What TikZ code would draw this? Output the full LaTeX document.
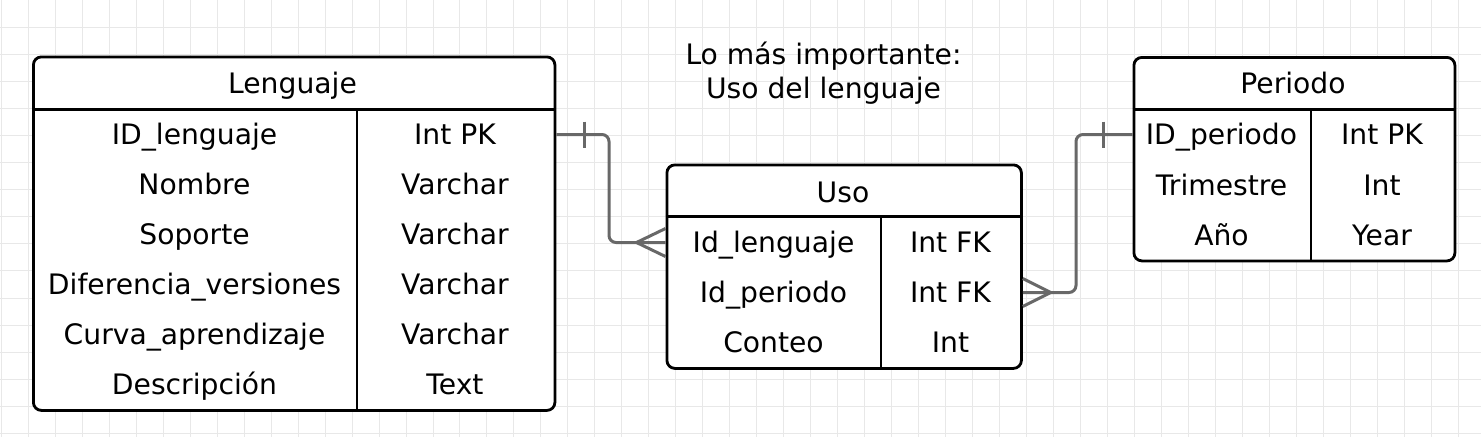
\documentclass[tikz,border=0pt]{standalone}
\usepackage{fontspec}
\setmainfont{DejaVu Sans}
\definecolor{relgray}{RGB}{104,104,104}
\definecolor{gridc}{RGB}{232,232,232}
\begin{document}
\begin{tikzpicture}[x=1pt,y=-1pt,
  tbl/.style={draw=black,line width=2.8pt,rounded corners=8pt,fill=white,inner sep=0pt,anchor=north west},
  sepline/.style={draw=black,line width=2.8pt},
  txt/.style={anchor=center,inner sep=0pt,text height=20.5pt,text depth=0pt,font=\fontsize{28.2}{34}\selectfont},
  rel/.style={draw=relgray,line width=3pt},
  gridline/.style={draw=gridc,line width=1pt}]
\useasboundingbox (0,0) rectangle (1481,437);
\fill[white] (0,0) rectangle (1481,437);
\foreach \k in {-1,...,53} \draw[gridline] ({28.3+26.98*\k},0) -- ++(0,437);
\foreach \k in {0,...,15} \draw[gridline] (0,{27.5+27.05*\k}) -- ++(1481,0);

% Title
\node[txt] (title1) at (823.5,54.5) {Lo más importante:};
\node[txt] (title2) at (823.5,88) {Uso del lenguaje};

% Lenguaje table
\node[tbl,minimum width=521.5pt,minimum height=353.5pt] (leng) at (32,55.5) {};
\draw[sepline] ([shift={(0,53.8)}]leng.north west) -- ([shift={(0,53.8)}]leng.north east);
\draw[sepline] (357,109.3) -- (357,409);
\node[txt] (lengH) at (292.5,83.5) {Lenguaje};
\node[txt] (lengA1) at (194.5,134.5) {ID\_lenguaje};
\node[txt] (lengB1) at (455,134.5) {Int PK};
\node[txt] (lengA2) at (194.5,184.5) {Nombre};
\node[txt] (lengB2) at (455,184.5) {Varchar};
\node[txt] (lengA3) at (194.5,234.5) {Soporte};
\node[txt] (lengB3) at (455,234.5) {Varchar};
\node[txt] (lengA4) at (194.5,284.5) {Diferencia\_versiones};
\node[txt] (lengB4) at (455,284.5) {Varchar};
\node[txt] (lengA5) at (194.5,334.5) {Curva\_aprendizaje};
\node[txt] (lengB5) at (455,334.5) {Varchar};
\node[txt] (lengA6) at (194.5,384.5) {Descripción};
\node[txt] (lengB6) at (455,384.5) {Text};

% Uso table
\node[tbl,minimum width=354.5pt,minimum height=203.5pt] (uso) at (665.5,163.5) {};
\draw[sepline] ([shift={(0,53.2)}]uso.north west) -- ([shift={(0,53.2)}]uso.north east);
\draw[sepline] (881,216.7) -- (881,367);
\node[txt] (usoH) at (843,192) {Uso};
\node[txt] (usoA1) at (773.5,242.5) {Id\_lenguaje};
\node[txt] (usoB1) at (950.5,242.5) {Int FK};
\node[txt] (usoA2) at (773.5,292.5) {Id\_periodo};
\node[txt] (usoB2) at (950.5,292.5) {Int FK};
\node[txt] (usoA3) at (773.5,342.5) {Conteo};
\node[txt] (usoB3) at (950.5,342.5) {Int};

% Periodo table
\node[tbl,minimum width=321pt,minimum height=203.5pt] (per) at (1132.5,56) {};
\draw[sepline] ([shift={(0,53.5)}]per.north west) -- ([shift={(0,53.5)}]per.north east);
\draw[sepline] (1311,109.5) -- (1311,259.5);
\node[txt] (perH) at (1293,83.3) {Periodo};
\node[txt] (perA1) at (1221.5,134.5) {ID\_periodo};
\node[txt] (perB1) at (1382,134.5) {Int PK};
\node[txt] (perA2) at (1221.5,185) {Trimestre};
\node[txt] (perB2) at (1382,185) {Int};
\node[txt] (perA3) at (1221.5,235) {Año};
\node[txt] (perB3) at (1382,235) {Year};

% Connector 1: Lenguaje (one) -- Uso (many)
\coordinate (ra) at (lengB1 -| leng.east);
\coordinate (rc) at (usoB1 -| uso.west);
\coordinate (k1) at (609,0);
\draw[rel,rounded corners=7pt] (ra) -| (k1 |- rc) -- (rc);
\draw[rel] ([shift={(28.5,-13)}]ra) -- ([shift={(28.5,13)}]ra);
\draw[rel] ([shift={(0,-14)}]rc) -- ([shift={(-29,0)}]rc) -- ([shift={(0,14)}]rc);

% Connector 2: Uso (many) -- Periodo (one)
\coordinate (rd) at (usoB2 -| uso.east);
\coordinate (re) at (perB1 -| per.west);
\coordinate (k2) at (1076,0);
\draw[rel,rounded corners=7pt] (rd) -| (k2 |- re) -- (re);
\draw[rel] ([shift={(0,-14)}]rd) -- ([shift={(28,0)}]rd) -- ([shift={(0,14)}]rd);
\draw[rel] ([shift={(-29,-13)}]re) -- ([shift={(-29,13)}]re);
\end{tikzpicture}
\end{document}
